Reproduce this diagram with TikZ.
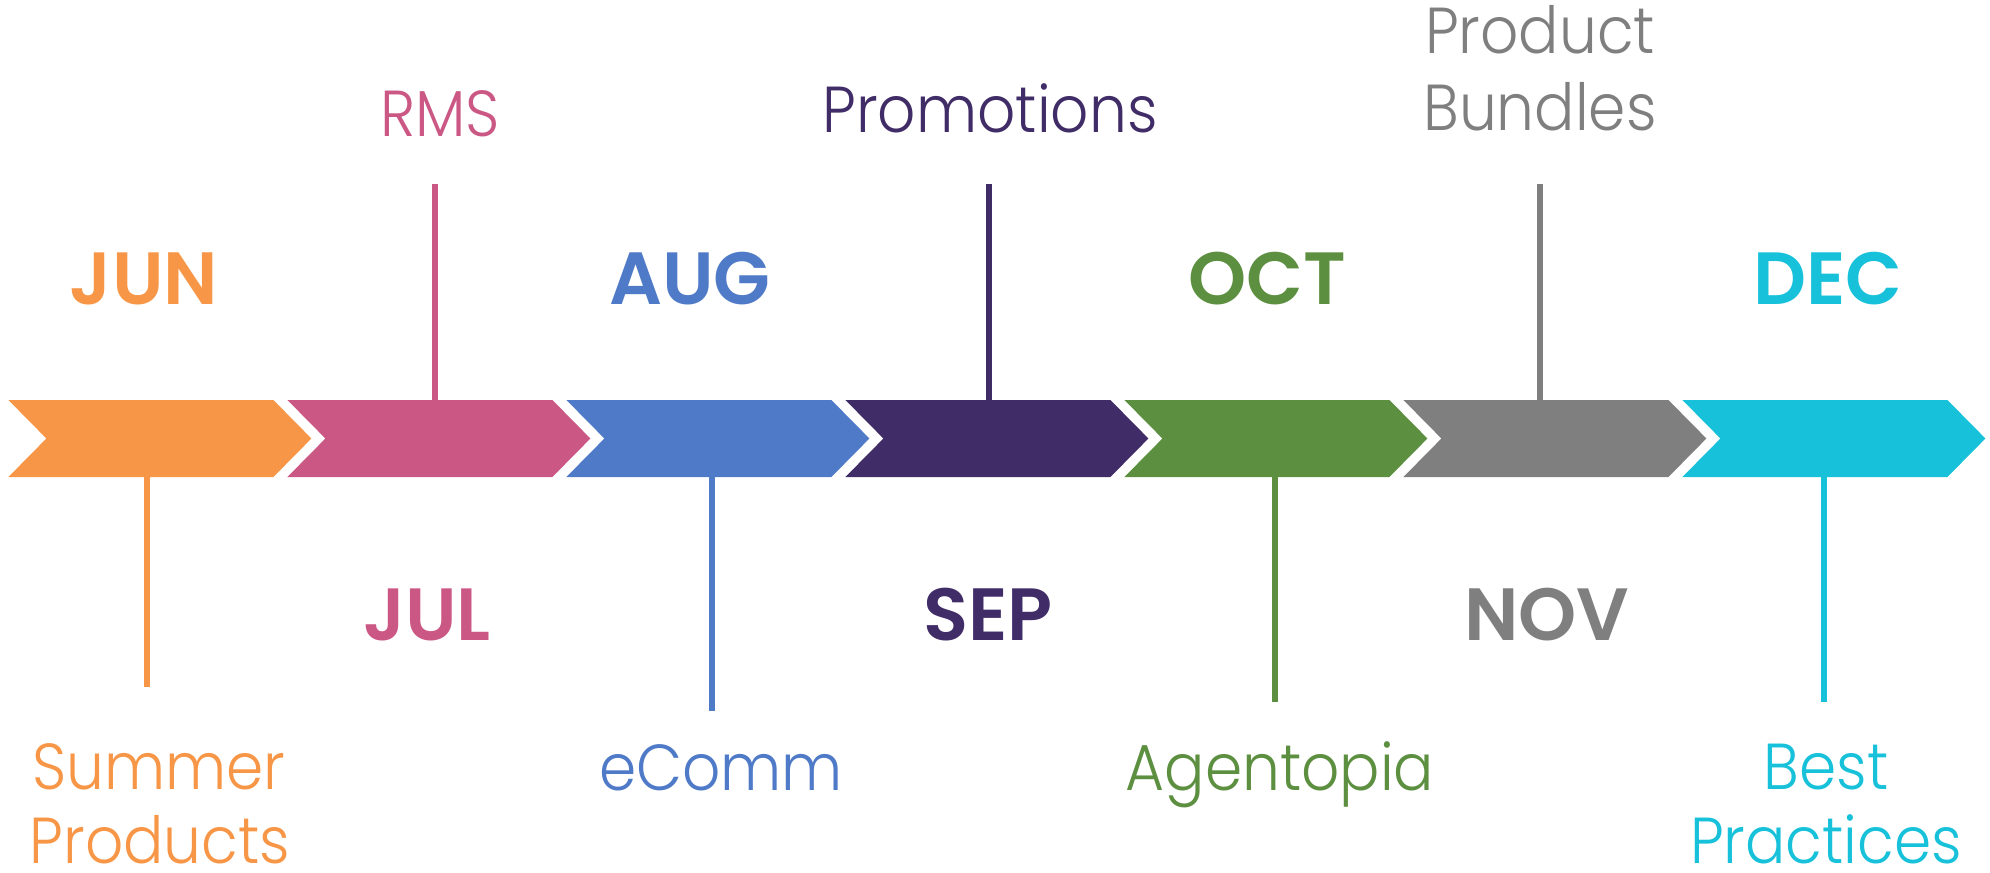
\documentclass[tikz,border=0pt]{standalone}
\usepackage{fontspec}
\setmainfont{Poppins}
\newfontfamily\lightfont{Poppins Light}[FakeStretch=0.92]
\newfontfamily\monthfont{Poppins SemiBold}
\definecolor{cJun}{HTML}{F79646}
\definecolor{cJul}{HTML}{CB5884}
\definecolor{cAug}{HTML}{4F7AC7}
\definecolor{cSep}{HTML}{402C66}
\definecolor{cOct}{HTML}{5D8F41}
\definecolor{cNov}{HTML}{7F7F7F}
\definecolor{cDec}{HTML}{17C1DA}
\tikzset{
  month/.style={anchor=base, inner sep=0pt, font=\monthfont\fontsize{37}{40}\selectfont},
  lbl/.style={anchor=base, inner sep=0pt, text depth=0pt, font=\lightfont\fontsize{32.5}{38}\selectfont},
  conn/.style={line width=3pt},
}
\begin{document}
\begin{tikzpicture}[x=0.5pt,y=-0.5pt]
\useasboundingbox (0,0) rectangle (1990,872);
% chevrons
\foreach \i/\c in {0/cJun,1/cJul,2/cAug,3/cSep,4/cOct,5/cNov,6/cDec}{
  \pgfmathsetmacro\xa{8.4+279*\i}
  \fill[\c] (\xa,400) -- ++(265,0) -- ++(38,38.5) -- ++(-38,38.5) -- ++(-265,0) -- ++(38,-38.5) -- cycle;
}
% attachment points on chevrons and free ends
\coordinate (junA) at (147,477);  \coordinate (junE) at (147,687);
\coordinate (julA) at (435,400);  \coordinate (julE) at (435,184);
\coordinate (augA) at (712,477);  \coordinate (augE) at (712,711);
\coordinate (sepA) at (989,400);  \coordinate (sepE) at (989,184);
\coordinate (octA) at (1275,477); \coordinate (octE) at (1275,702);
\coordinate (novA) at (1540,400); \coordinate (novE) at (1540,184);
\coordinate (decA) at (1824,477); \coordinate (decE) at (1824,702);
\draw[conn,cJun] (junA) -- (junE);
\draw[conn,cJul] (julA) -- (julE);
\draw[conn,cAug] (augA) -- (augE);
\draw[conn,cSep] (sepA) -- (sepE);
\draw[conn,cOct] (octA) -- (octE);
\draw[conn,cNov] (novA) -- (novE);
\draw[conn,cDec] (decA) -- (decE);
% months
\node[month,text=cJun] (mJun) at (144,304) {JUN};
\node[month,text=cAug] (mAug) at (690,304) {AUG};
\node[month,text=cOct] (mOct) at (1267,304) {OCT};
\node[month,text=cDec] (mDec) at (1828,304) {DEC};
\node[month,text=cJul] (mJul) at (427,640) {JUL};
\node[month,text=cSep] (mSep) at (988,640) {SEP};
\node[month,text=cNov] (mNov) at (1547,640) {NOV};
% labels
\node[lbl,text=cJul] (tRms) at (440,136) {RMS};
\node[lbl,text=cSep] (tProm) at (990,133) {Promotions};
\node[lbl,text=cNov] (tProd1) at (1540,54) {Product};
\node[lbl,text=cNov] (tProd2) at (1540,131) {Bundles};
\node[lbl,text=cJun] (tSum1) at (159,789) {Summer};
\node[lbl,text=cJun] (tSum2) at (160,863) {Products};
\node[lbl,text=cAug] (tEcomm) at (721,790) {eComm};
\node[lbl,text=cOct] (tAgent) at (1280,790) {Agentopia};
\node[lbl,text=cDec] (tBest1) at (1826,789) {Best};
\node[lbl,text=cDec] (tBest2) at (1826,863) {Practices};
\end{tikzpicture}
\end{document}
